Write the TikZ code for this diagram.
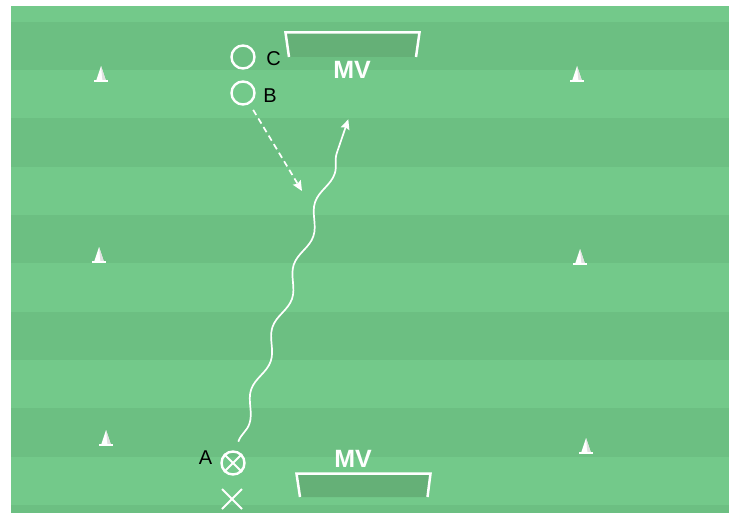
\documentclass[tikz,border=0pt]{standalone}
\usepackage{fontspec}
\setmainfont{Liberation Sans}
\usetikzlibrary{arrows.meta,decorations.pathmorphing}
\definecolor{lightg}{RGB}{115,201,138}
\definecolor{darkg}{RGB}{108,191,130}
\definecolor{goalg}{RGB}{101,176,119}
\definecolor{conegray}{RGB}{225,225,225}
\begin{document}
\begin{tikzpicture}[x=1pt,y=-1pt,
  player/.style={circle, draw=white, line width=2.4pt, minimum size=23pt, inner sep=0pt},
  lbl/.style={font=\fontsize{20}{20}\selectfont, text=black, inner sep=0pt},
  mvlabel/.style={font=\fontsize{25}{25}\selectfont\bfseries, text=white, inner sep=0pt},
  goalline/.style={draw=white, line width=2.5pt, line join=miter},
  goalfill/.style={fill=goalg},
  whitearrow/.style={draw=white, line width=1.7pt, -{Stealth[length=10pt,width=9pt,inset=1.5pt]}},
  dashedarrow/.style={whitearrow, dash pattern=on 6pt off 4pt},
  dribble/.style={whitearrow, decorate, decoration={snake, mirror, amplitude=4.7pt, segment length=66pt, post length=3pt}},
  cone/.pic={
    \fill[white] (-5,0) -- (0,-15) -- (5,0) -- cycle;
    \fill[conegray] (0,-15) -- (5,0) -- (1.5,0) -- cycle;
    \draw[white, line width=2pt] (-7,0) -- (7,0);
  }]
\useasboundingbox (0,0) rectangle (739,516);
\fill[white] (0,0) rectangle (739,516);
% field stripes
\fill[lightg] (11,6) rectangle (729,513);
\foreach \a/\b in {22/70,118/167,215/263,312/360,408/457,505/513}
  \fill[darkg] (11,\a) rectangle (729,\b);

% top goal
\fill[goalfill] (286,33) -- (419,33) -- (415,57) -- (290,57) -- cycle;
\draw[goalline] (289,57) -- (285.5,32.5) -- (419.5,32.5) -- (416,57);
\node[mvlabel] (mvtop) at (352,70) {MV};

% bottom goal
\fill[goalfill] (297,474) -- (430,474) -- (427,497) -- (300,497) -- cycle;
\draw[goalline] (300,497) -- (296.5,473.5) -- (430.5,473.5) -- (427.5,497);
\node[mvlabel] (mvbot) at (353,459) {MV};

% cones
\pic at (101,81) {cone};
\pic at (577,81) {cone};
\pic at (99,262) {cone};
\pic at (580,264) {cone};
\pic at (106,445) {cone};
\pic at (586,453) {cone};

% players
\node[player] (c) at (243,57) {};
\node[lbl] (clbl) at (273.5,58.5) {C};
\node[player] (b) at (243,93) {};
\node[lbl] (blbl) at (270,95.5) {B};
\node[player] (a) at (233,463) {};
\draw[white, line width=2pt] (a.north east) -- (a.south west) (a.north west) -- (a.south east);
\node[lbl] (albl) at (205.5,458) {A};
\coordinate (xm) at (232,499);
\draw[white, line width=2pt] ([shift={(-10,-10)}]xm) -- ([shift={(10,10)}]xm)
  ([shift={(-10,10)}]xm) -- ([shift={(10,-10)}]xm);

% pass (dashed)
\coordinate (passend) at (302,191);
\draw[dashedarrow, shorten <=7pt] (b) -- (passend);

% dribble (wavy)
\coordinate (ws) at (238.3,441.7);
\coordinate (we) at (348.3,119.3);
\draw[dribble] (ws) -- (we);
\end{tikzpicture}
\end{document}
